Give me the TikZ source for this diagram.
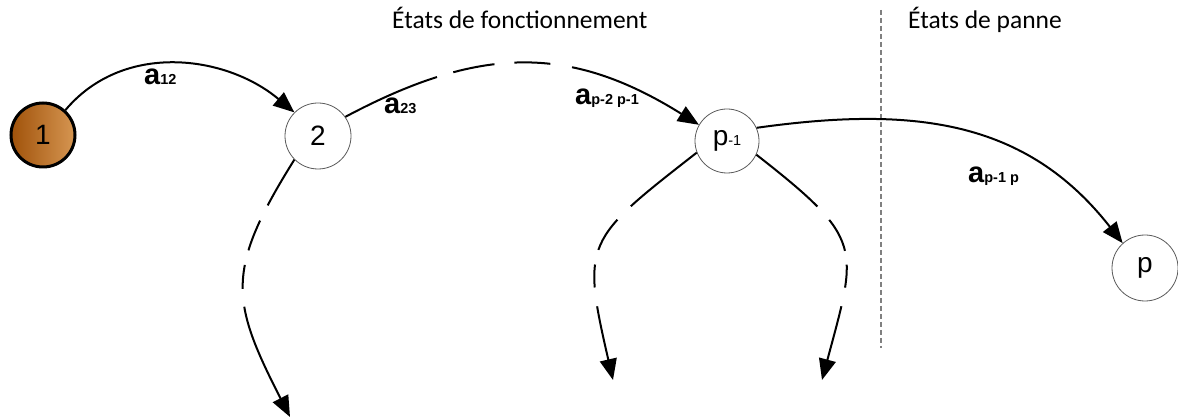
\documentclass[tikz,border=0pt]{standalone}
\usepackage{fontspec}
\setmainfont{Liberation Sans}
\newfontfamily\titlefont{Carlito}
\usetikzlibrary{arrows.meta}
\newcommand\mysub[1]{{\fontsize{14.5}{14.5}\selectfont #1}}
\begin{document}
\begin{tikzpicture}[x=1pt,y=1pt,
  state/.style={circle, draw={rgb,255:red,90;green,90;blue,90}, line width=0.8pt,
    minimum size=66pt, inner sep=0pt, font=\fontsize{28}{28}\selectfont, fill=white},
  conn/.style={line width=2pt, -{Triangle[length=21pt,width=17pt]}},
  lab/.style={anchor=base west, inner sep=0pt, font=\bfseries\fontsize{29}{29}\selectfont},
  title/.style={anchor=base west, inner sep=0pt, font=\titlefont\fontsize{25.5}{25.5}\selectfont},
  sep/.style={draw={rgb,255:red,128;green,128;blue,128}, line width=1.2pt, dash pattern=on 5pt off 3pt},
]
\useasboundingbox (0,0) rectangle (1178,-419);

% titles
\node[title] (t1) at (392,-29) {États de fonctionnement};
\node[title] (t2) at (908,-29) {États de panne};

% separator
\draw[sep] (881,-10) -- (881,-348);

% states
\node[state, draw=black, line width=3pt, minimum size=64pt,
  left color={rgb,255:red,160;green,82;blue,10},
  right color={rgb,255:red,214;green,150;blue,82}] (n1) at (43,-135) {1};
\node[state] (n2) at (318,-136) {2};
\node[state, minimum size=64pt] (np1) at (727,-141) {p\mysub{-1}};
\node[state] (np) at (1145,-268) {p};

\coordinate (d2) at (290,-417);
\coordinate (dl) at (613,-380);
\coordinate (dr) at (822,-380);

% connectors
\draw[conn] (n1.48) to[out=50,in=140] (n2.135);
\draw[conn, dash pattern={on 100pt off 17pt on 42pt off 20pt on 36pt off 22pt on 400pt}]
  (n2.35) to[out=28,in=148,looseness=1.1] (np1.150);
\draw[conn, dash pattern={on 53pt off 17pt on 32pt off 15pt on 24pt off 18pt on 400pt}]
  (n2.225) to[out=238,in=117,looseness=1.3] (d2);
\draw[conn, dash pattern={on 85pt off 19pt on 36pt off 15pt on 23pt off 19pt on 400pt}]
  (np1.201) to[out=218,in=103,looseness=1.5] (dl);
\draw[conn, dash pattern={on 80pt off 18pt on 35pt off 14pt on 23pt off 19pt on 400pt}]
  (np1.335) to[out=-38,in=75,looseness=1.5] (dr);
\draw[conn] (np1.24) to[out=8,in=128,looseness=1.05] (np.132);

% labels
\node[lab] (l12) at (144,-85) {a\mysub{12}};
\node[lab] (l23) at (384,-114) {a\mysub{23}};
\node[lab] (lp2) at (575,-105) {a\mysub{p-2 p-1}};
\node[lab] (lp1) at (968,-183) {a\mysub{p-1 p}};
\end{tikzpicture}
\end{document}
